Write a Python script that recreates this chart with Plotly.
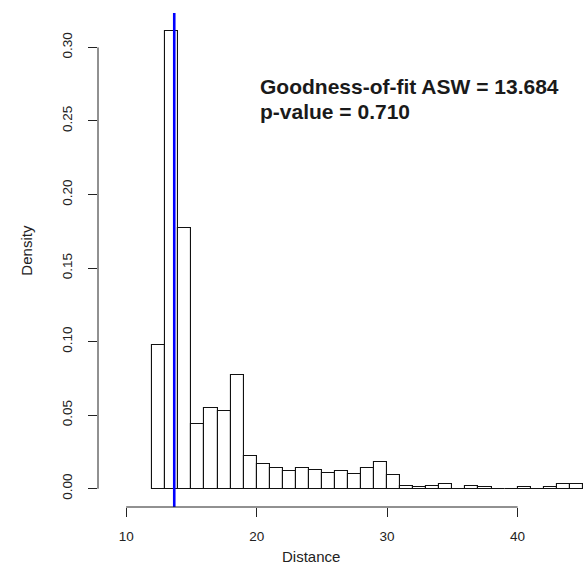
import plotly.graph_objects as go

# Histogram of bootstrap distances (bin width 1, left edges listed)
bin_left = [12, 13, 14, 15, 16, 17, 18, 19, 20, 21, 22, 23, 24, 25, 26, 27,
            28, 29, 30, 31, 32, 33, 34, 35, 36, 37, 38, 39, 40, 41, 42, 43, 44]
density = [0.098, 0.311, 0.177, 0.044, 0.055, 0.053, 0.077, 0.022, 0.017,
           0.014, 0.012, 0.014, 0.013, 0.011, 0.012, 0.010, 0.014, 0.018,
           0.009, 0.002, 0.001, 0.002, 0.003, 0.000, 0.002, 0.001, 0.000,
           0.000, 0.001, 0.000, 0.001, 0.003, 0.003]
bin_width = 1

observed_asw = 13.684
p_value = 0.710

x_ticks = [10, 20, 30, 40]
y_ticks = [0.00, 0.05, 0.10, 0.15, 0.20, 0.25, 0.30]

FONT = "Liberation Sans, Arial, sans-serif"
AXIS_COLOR = "#222222"

W, H = 584, 566
M_L, M_R, M_T, M_B = 97.5, 0, 12.6, 58.7

fig = go.Figure()

fig.add_trace(go.Bar(
    x=[b + bin_width / 2 for b in bin_left],
    y=density,
    width=bin_width,
    marker=dict(color="white", line=dict(color="#111111", width=1.1)),
    hoverinfo="x+y",
    showlegend=False,
))

# observed statistic
fig.add_shape(type="line", xref="x", yref="paper",
              x0=observed_asw, x1=observed_asw, y0=0, y1=1,
              line=dict(color="#0000FF", width=2.6), layer="above")

# R-style axis lines spanning only the tick range
fig.add_shape(type="line", xref="x", yref="paper",
              x0=x_ticks[0], x1=x_ticks[-1], y0=0, y1=0,
              line=dict(color=AXIS_COLOR, width=1))
fig.add_shape(type="line", xref="paper", yref="y",
              x0=0, x1=0, y0=y_ticks[0], y1=y_ticks[-1],
              line=dict(color=AXIS_COLOR, width=1))

fig.add_annotation(text="<b>Goodness-of-fit ASW = %.3f</b>" % observed_asw,
                   xref="paper", yref="paper",
                   x=(257.5 - M_L) / (W - M_L - M_R), y=1 - (86 - M_T) / (H - M_T - M_B),
                   xanchor="left", yanchor="middle", showarrow=False,
                   font=dict(family=FONT, size=21, color="#1a1a1a"))
fig.add_annotation(text="<b>p-value = %.3f</b>" % p_value,
                   xref="paper", yref="paper",
                   x=(257.5 - M_L) / (W - M_L - M_R), y=1 - (111 - M_T) / (H - M_T - M_B),
                   xanchor="left", yanchor="middle", showarrow=False,
                   font=dict(family=FONT, size=21, color="#1a1a1a"))

# axis titles
fig.add_annotation(text="Distance", xref="paper", yref="paper",
                   x=(310.7 - M_L) / (W - M_L - M_R), y=-(556.5 - (H - M_B)) / (H - M_T - M_B),
                   xanchor="center", yanchor="middle", showarrow=False,
                   font=dict(family=FONT, size=15, color="#222222"))
fig.add_annotation(text="Density", xref="paper", yref="paper",
                   x=-(M_L - 25) / (W - M_L - M_R), y=1 - (250 - M_T) / (H - M_T - M_B),
                   xanchor="center", yanchor="middle", textangle=-90, showarrow=False,
                   font=dict(family=FONT, size=15, color="#222222"))

fig.update_layout(
    width=W, height=H,
    margin=dict(l=M_L, r=M_R, t=M_T, b=M_B, pad=0),
    paper_bgcolor="white", plot_bgcolor="white",
    bargap=0,
    font=dict(family=FONT, size=13.5, color="#222222"),
)
fig.update_xaxes(
    range=[7.84, 45.09], showgrid=False, zeroline=False, showline=False,
    tickvals=x_ticks, ticktext=[str(v) for v in x_ticks],
    ticks="outside", ticklen=9, tickwidth=1, tickcolor=AXIS_COLOR,
    ticklabelstandoff=8,
)
fig.update_yaxes(
    range=[-0.01242, 0.3234], showgrid=False, zeroline=False, showline=False,
    tickvals=y_ticks, ticktext=["%.2f" % v for v in y_ticks],
    ticks="outside", ticklen=9, tickwidth=1, tickcolor=AXIS_COLOR,
    tickangle=-90, ticklabelstandoff=11,
)

fig.write_html("out.html")
